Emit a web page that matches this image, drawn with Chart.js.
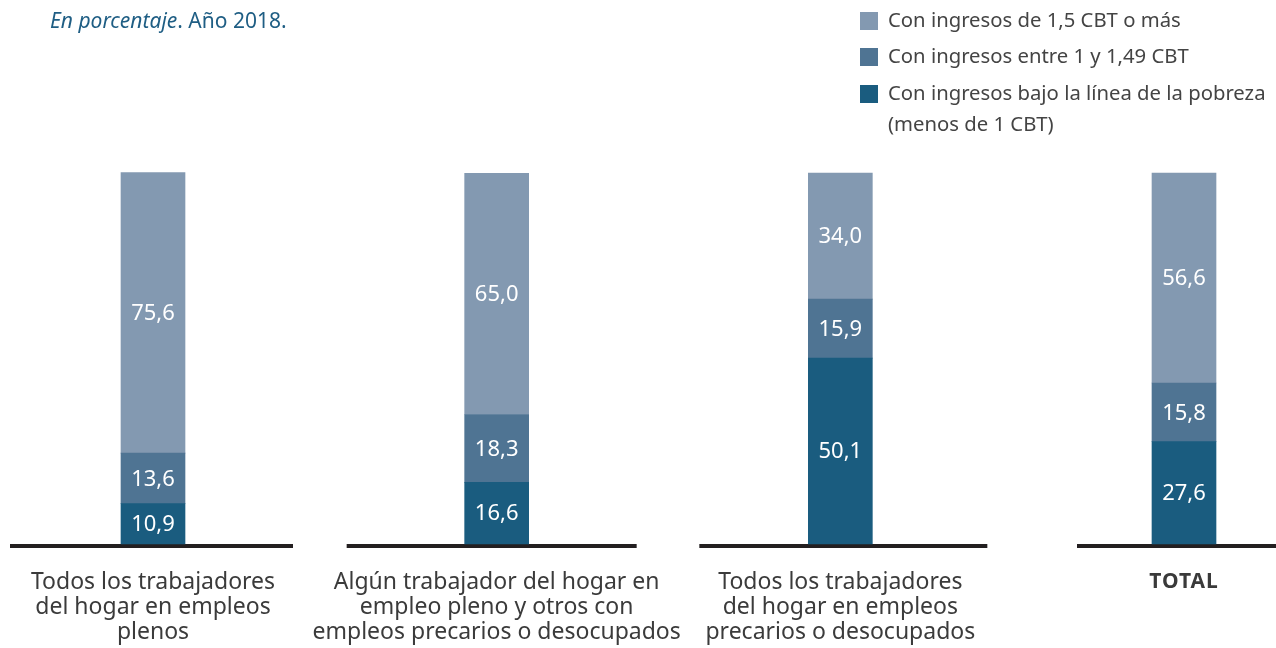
<!DOCTYPE html>
<html>
<head>
<meta charset="utf-8">
<script src="https://cdn.jsdelivr.net/npm/chart.js@4"></script>
<style>
  html, body { margin: 0; padding: 0; background: #fff; }
  #wrap { width: 1276px; height: 648px; position: relative; }
</style>
</head>
<body>
<div id="wrap"><canvas id="myChart"></canvas></div>
<script>
// categories (line breaks as in the original)
const categories = [
  ["Todos los trabajadores", "del hogar en empleos", "plenos"],
  ["Algún trabajador del hogar en", "empleo pleno y otros con", "empleos precarios o desocupados"],
  ["Todos los trabajadores", "del hogar en empleos", "precarios o desocupados"],
  ["TOTAL"]
];

// series, bottom to top
const bajoPobreza = [10.9, 16.6, 50.1, 27.6];
const entre1y149 = [13.6, 18.3, 15.9, 15.8];
const masDe15 = [75.6, 65.0, 34.0, 56.6];

const seriesNames = [
  ["Con ingresos bajo la línea de la pobreza", "(menos de 1 CBT)"],
  ["Con ingresos entre 1 y 1,49 CBT"],
  ["Con ingresos de 1,5 CBT o más"]
];

const COLORS = {
  dark: 'rgb(26, 92, 127)',
  mid: 'rgb(79, 116, 147)',
  light: 'rgb(131, 153, 177)'
};

const FONT = '"Noto Sans", Lato, sans-serif';

// black base line under each group: half width left / right of the bar
const baseLeft = [143, 150, 141, 107];
const baseRight = [140, 140, 147, 92];

const fmt = v => v.toFixed(1).replace('.', ',');

const extrasPlugin = {
  id: 'extras',
  beforeDatasetsDraw(chart) {
    const ctx = chart.ctx;
    const x = chart.scales.x;
    const y0 = chart.scales.y.getPixelForValue(0);
    ctx.save();
    ctx.fillStyle = '#231f20';
    categories.forEach((c, i) => {
      const cx = x.getPixelForValue(i);
      ctx.fillRect(cx - baseLeft[i], y0, baseLeft[i] + baseRight[i], 4);
    });
    ctx.restore();
  },
  afterDatasetsDraw(chart) {
    const ctx = chart.ctx;
    const x = chart.scales.x;
    const y0 = chart.scales.y.getPixelForValue(0);

    // values inside the bars
    ctx.save();
    ctx.fillStyle = '#ffffff';
    ctx.font = '22px ' + FONT;
    ctx.textAlign = 'center';
    ctx.textBaseline = 'middle';
    chart.data.datasets.forEach((ds, d) => {
      const meta = chart.getDatasetMeta(d);
      meta.data.forEach((bar, i) => {
        ctx.fillText(fmt(ds.data[i]), bar.x, (bar.y + bar.base) / 2 + 1);
      });
    });
    ctx.restore();

    // category labels under the base line
    ctx.save();
    ctx.textAlign = 'center';
    ctx.textBaseline = 'middle';
    categories.forEach((lines, i) => {
      const cx = x.getPixelForValue(i);
      if (i === 3) {
        ctx.font = 'bold 21px ' + FONT;
        ctx.fillStyle = '#3a3a3a';
        ctx.letterSpacing = '1px';
      } else {
        ctx.font = '23px ' + FONT;
        ctx.fillStyle = '#3b3b3b';
        ctx.letterSpacing = '0px';
      }
      lines.forEach((line, k) => {
        ctx.fillText(line, cx, y0 + 38 + k * 25);
      });
    });
    ctx.restore();

    // subtitle
    ctx.save();
    ctx.fillStyle = 'rgb(31, 94, 132)';
    ctx.textBaseline = 'middle';
    ctx.textAlign = 'left';
    ctx.font = 'italic 21px ' + FONT;
    const part1 = 'En porcentaje';
    ctx.fillText(part1, 50, 22);
    const w = ctx.measureText(part1).width;
    ctx.font = '21px ' + FONT;
    ctx.fillText('. Año 2018.', 50 + w, 22);
    ctx.restore();

    // legend, top series first
    ctx.save();
    ctx.textBaseline = 'middle';
    ctx.textAlign = 'left';
    ctx.font = '20.3px ' + FONT;
    const rows = [21, 57, 94];
    const order = [2, 1, 0];
    order.forEach((d, r) => {
      const ds = chart.data.datasets[d];
      ctx.fillStyle = ds.backgroundColor;
      ctx.fillRect(860, rows[r] - 9, 18, 18);
      ctx.fillStyle = '#444444';
      seriesNames[d].forEach((line, k) => {
        ctx.fillText(line, 888, rows[r] + k * 31);
      });
    });
    ctx.restore();
  }
};

const data = {
  labels: categories,
  datasets: [
    { label: seriesNames[0].join(' '), data: bajoPobreza, backgroundColor: COLORS.dark },
    { label: seriesNames[1].join(' '), data: entre1y149, backgroundColor: COLORS.mid },
    { label: seriesNames[2].join(' '), data: masDe15, backgroundColor: COLORS.light }
  ]
};

const config = {
  type: 'bar',
  data: data,
  options: {
    responsive: true,
    maintainAspectRatio: false,
    animation: false,
    layout: { padding: { left: 153, right: 92, top: 173, bottom: 104 } },
    datasets: { bar: { barThickness: 64, clip: false, borderWidth: 0 } },
    plugins: {
      legend: { display: false },
      tooltip: { enabled: false }
    },
    scales: {
      x: {
        stacked: true,
        offset: false,
        display: false
      },
      y: {
        stacked: true,
        display: false,
        min: 0,
        max: 100
      }
    }
  },
  plugins: [extrasPlugin]
};

const myChart = new Chart(document.getElementById('myChart'), config);
</script>
</body>
</html>
